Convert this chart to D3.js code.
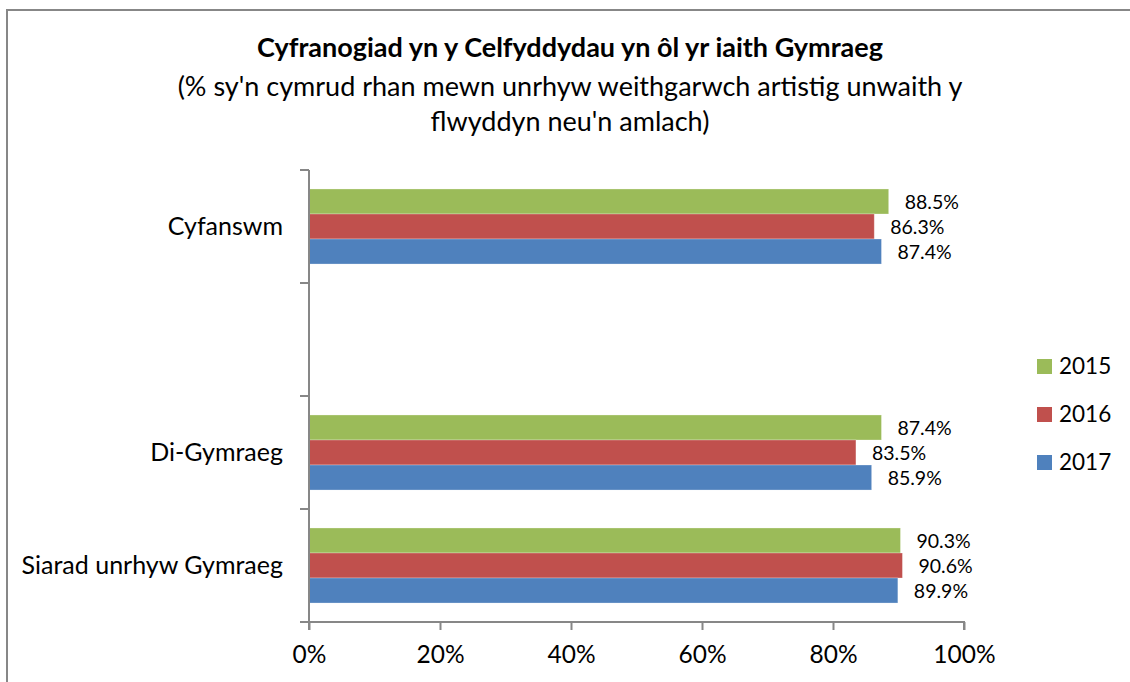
<!DOCTYPE html>
<html>
<head>
<meta charset="utf-8">
<script src="https://cdn.jsdelivr.net/npm/d3@7"></script>
<style>
  body { margin: 0; background: #fff; }
  svg text { font-family: Lato, "DejaVu Sans", sans-serif; fill: #000; }
</style>
</head>
<body>
<div id="chart"></div>
<script>
// data
const categories = ["Cyfanswm", "", "Di-Gymraeg", "Siarad unrhyw Gymraeg"];
const years = ["2015", "2016", "2017"];
const values2015 = [88.5, null, 87.4, 90.3];
const values2016 = [86.3, null, 83.5, 90.6];
const values2017 = [87.4, null, 85.9, 89.9];
const xTicks = [0, 20, 40, 60, 80, 100];
const colours = ["#9BBB59", "#C0504D", "#4F81BD"];

const title = "Cyfranogiad yn y Celfyddydau yn ôl yr iaith Gymraeg";
const subtitle = ["(% sy'n cymrud rhan mewn unrhyw weithgarwch artistig unwaith y",
                  "flwyddyn neu'n amlach)"];

const W = 1130, H = 682;
const plot = {left: 309, right: 964, top: 170, bottom: 622};

const series = [values2015, values2016, values2017];
const rows = [];
categories.forEach(function (c, i) {
    years.forEach(function (yr, j) {
        if (series[j][i] != null) rows.push({cat: i, year: yr, value: series[j][i], s: j});
    });
});

const svg = d3.select("#chart").append("svg")
    .attr("width", W).attr("height", H);

// outer frame (only top and left visible in the crop)
svg.append("rect")
    .attr("x", 7).attr("y", 10)
    .attr("width", 1300).attr("height", 900)
    .attr("fill", "none").attr("stroke", "#878787").attr("stroke-width", 2);

// titles
svg.append("text")
    .attr("x", 570).attr("y", 57)
    .attr("text-anchor", "middle")
    .style("font-size", "27px").style("font-weight", "bold")
    .text(title);

svg.selectAll(".sub").data(subtitle).join("text")
    .attr("class", "sub")
    .attr("x", 570).attr("y", (d, i) => 96 + i * 35)
    .attr("text-anchor", "middle")
    .style("font-size", "27px")
    .text(d => d);

// scales
const y = d3.scaleBand()
    .domain(d3.range(categories.length))
    .range([plot.top, plot.bottom])
    .paddingInner(0.336).paddingOuter(0.168);

const ySub = d3.scaleBand()
    .domain(d3.range(years.length))
    .range([0, y.bandwidth()]);

const x = d3.scaleLinear()
    .domain([0, 100])
    .range([plot.left, plot.right]);

// bars
svg.append("g").selectAll("rect")
    .data(rows).join("rect")
    .attr("x", x(0))
    .attr("y", d => y(d.cat) + ySub(d.s))
    .attr("width", d => x(d.value) - x(0))
    .attr("height", ySub.bandwidth())
    .attr("fill", d => colours[d.s])
    .attr("stroke", "#ffffff").attr("stroke-opacity", 0.35).attr("stroke-width", 0.8);

// value labels
svg.append("g").selectAll("text")
    .data(rows).join("text")
    .attr("x", d => x(d.value) + 16)
    .attr("y", d => y(d.cat) + ySub(d.s) + ySub.bandwidth() / 2)
    .attr("dy", "0.36em")
    .style("font-size", "19.5px")
    .text(d => d.value.toFixed(1) + "%");

// x axis
const xAxis = svg.append("g")
    .attr("transform", `translate(0,${plot.bottom})`)
    .call(d3.axisBottom(x).tickValues(xTicks).tickSize(8).tickPadding(16)
        .tickFormat(d => d + "%"));
xAxis.selectAll("path, line").attr("stroke", "#878787").attr("stroke-width", 2);
xAxis.select(".domain").attr("d", `M${plot.left},8V0H${plot.right}V8`);
xAxis.selectAll("text").style("font-size", "24.5px").attr("fill", "#000");

// y axis: labels in the middle of each band, ticks on the band edges
const yAxis = svg.append("g")
    .attr("transform", `translate(${plot.left},0)`)
    .call(d3.axisLeft(y).tickSize(0).tickPadding(26).tickFormat(i => categories[i]));
yAxis.select(".domain").remove();
yAxis.selectAll("text").style("font-size", "25px").attr("fill", "#000");

const edges = d3.range(categories.length + 1)
    .map(i => plot.top + i * y.step());
svg.append("line")
    .attr("x1", plot.left).attr("x2", plot.left)
    .attr("y1", plot.top).attr("y2", plot.bottom)
    .attr("stroke", "#878787").attr("stroke-width", 2);
svg.append("g").selectAll("line")
    .data(edges).join("line")
    .attr("x1", plot.left - 9).attr("x2", plot.left)
    .attr("y1", d => d).attr("y2", d => d)
    .attr("stroke", "#878787").attr("stroke-width", 2);

// legend
const legend = svg.append("g").selectAll("g")
    .data(years).join("g")
    .attr("transform", (d, i) => `translate(1037,${359 + i * 48})`);
legend.append("rect")
    .attr("width", 15).attr("height", 15)
    .attr("fill", (d, i) => colours[i]);
legend.append("text")
    .attr("x", 22).attr("y", 15)
    .style("font-size", "22.5px")
    .text(d => d);
</script>
</body>
</html>
